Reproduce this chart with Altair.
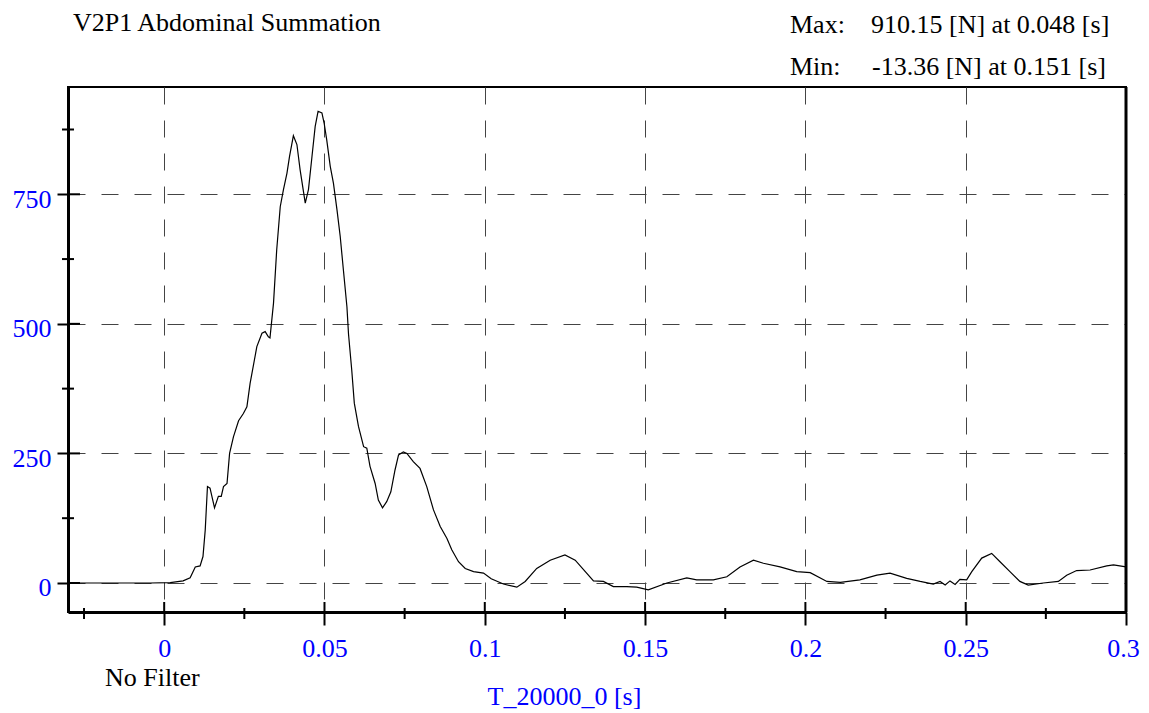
import altair as alt
import pandas as pd

# ---- data ----
time_s = [-0.03, -0.0200, -0.0044, 0.0019, 0.0059, 0.0081, 0.0097, 0.0112, 0.0121, 0.0128,
          0.0135, 0.0143, 0.0157, 0.0169, 0.0178, 0.0185, 0.0196, 0.0204, 0.0216, 0.0232,
          0.0247, 0.0258, 0.0268, 0.0289, 0.0305, 0.0315, 0.0325, 0.0330, 0.0341, 0.0351,
          0.0362, 0.0372, 0.0383, 0.0391, 0.0403, 0.0414, 0.0424, 0.0440, 0.0450, 0.0461,
          0.0471, 0.0480, 0.0492, 0.0499, 0.0507, 0.0518, 0.0528, 0.0539, 0.0549, 0.0559,
          0.0570, 0.0575, 0.0585, 0.0593, 0.0606, 0.0622, 0.0632, 0.0642, 0.0658, 0.0668,
          0.0681, 0.0694, 0.0707, 0.0720, 0.0731, 0.0746, 0.0757, 0.0777, 0.0798, 0.0819,
          0.0840, 0.0861, 0.0882, 0.0897, 0.0918, 0.0939, 0.0965, 0.0996, 0.1020, 0.1058,
          0.1100, 0.1126, 0.1162, 0.1204, 0.1250, 0.1282, 0.1339, 0.1370, 0.1401, 0.1443,
          0.1474, 0.1510, 0.1568, 0.1630, 0.1661, 0.1713, 0.1755, 0.1796, 0.1838, 0.1869,
          0.1921, 0.1973, 0.2015, 0.2067, 0.2109, 0.2170, 0.2223, 0.2264, 0.2316, 0.2358,
          0.2399, 0.2420, 0.2436, 0.2451, 0.2467, 0.2482, 0.2503, 0.2519, 0.2550, 0.2581,
          0.2607, 0.2638, 0.2669, 0.2695, 0.2742, 0.2789, 0.2815, 0.2846, 0.2888, 0.2940,
          0.2961, 0.3000]
force_n = [0, 0, 0, 0.5, 4, 10, 31, 33, 51, 102,
           186, 183, 145, 167, 167, 186, 192, 250, 282, 313,
           327, 340, 385, 456, 482, 485, 475, 473, 540, 643,
           726, 759, 791, 823, 863, 846, 797, 733, 759, 823,
           881, 910.15, 907, 887, 855, 804, 771, 720, 669, 604,
           533, 480, 411, 347, 302, 263, 260, 225, 192, 160,
           145, 157, 176, 218, 247, 253, 250, 234, 221, 186,
           141, 109, 86, 64, 41, 28, 22, 19, 8, -2,
           -8, 3, 28, 44, 54, 44, 4, 3, -7, -7,
           -8, -13.36, 0, 10, 6, 6, 12, 31, 44, 38,
           31, 22, 20, 3, 1, 6, 15, 19, 9, 3,
           -2, 3, -4, 4, -3, 7, 6, 22, 48, 57,
           41, 22, 3, -4, 0, 3, 15, 24, 25, 33,
           35, 31]

y_major = [0, 250, 500, 750]
y_minor = [125, 375, 625, 875]
x_major = [0, 0.05, 0.1, 0.15, 0.2, 0.25, 0.3]
x_minor = [-0.025, 0.025, 0.075, 0.125, 0.175, 0.225, 0.275]
x_edge = [0.3]

title_text = "V2P1 Abdominal Summation"
max_label = "Max:"
max_text = "910.15 [N] at 0.048 [s]"
min_label = "Min:"
min_text = "-13.36 [N] at 0.151 [s]"
filter_text = "No Filter"
x_title = "T_20000_0 [s]"

# ---- styling ----
W, H = 1058, 525
FONT = "Liberation Serif"
FS = 26
BLUE = "#0000FF"
GRID = "#444444"

xscale = alt.Scale(domain=[-0.03, 0.3], nice=False, zero=False)
yscale = alt.Scale(domain=[-56, 957], nice=False, zero=False)

X_AX = alt.Axis(
    values=x_major, format=".2~f", grid=True, gridDash=[17, 16], gridColor=GRID,
    gridWidth=1, domainColor="black", domainWidth=3, tickColor="black", tickSize=13,
    tickWidth=2, labelColor=BLUE, labelFont=FONT, labelFontSize=FS,
    labelBaseline="alphabetic", labelPadding=31, labelFlush=False, labelOverlap=False,
    labelOffset={"condition": {"test": "datum.value >= 0.3", "value": -3}, "value": 0},
    title=x_title, titleColor=BLUE, titleFont=FONT, titleFontSize=FS,
    titleFontWeight="normal", titleX=419, titleY=92, titleAlign="left",
    titleBaseline="alphabetic")
Y_AX = alt.Axis(
    values=y_major, format="d", grid=True, gridDash=[17, 16], gridColor=GRID,
    gridWidth=1, domainColor="black", domainWidth=3, tickColor="black", tickSize=11,
    tickWidth=2, labelColor=BLUE, labelFont=FONT, labelFontSize=FS,
    labelBaseline="alphabetic", labelOffset=13, labelPadding=6, labelFlush=False,
    labelOverlap=False, title=None)

df = pd.DataFrame({"t": time_s, "f": force_n})

line = alt.Chart(df).mark_line(color="black", strokeWidth=1.2).encode(
    x=alt.X("t:Q", scale=xscale, axis=X_AX),
    y=alt.Y("f:Q", scale=yscale, axis=Y_AX),
)


def yticks(vals, x1, x2):
    return alt.Chart(pd.DataFrame({"f": vals})).mark_rule(color="black", strokeWidth=2).encode(
        y=alt.Y("f:Q", scale=yscale, axis=Y_AX), x=alt.value(x1), x2=alt.value(x2))


def xticks(vals, y1, y2, w=2):
    return alt.Chart(pd.DataFrame({"t": vals})).mark_rule(color="black", strokeWidth=w).encode(
        x=alt.X("t:Q", scale=xscale, axis=X_AX), y=alt.value(y1), y2=alt.value(y2))


def label(text, x, y, color="black"):
    return alt.Chart(pd.DataFrame({"s": [text]})).mark_text(
        align="left", baseline="alphabetic", font=FONT, fontSize=FS, color=color
    ).encode(text="s:N", x=alt.value(x), y=alt.value(y))


layers = [
    line,
    yticks(y_major, 0, 12),
    yticks(y_minor, -6, 6),
    xticks(x_major, H - 10, H),
    xticks(x_minor, H - 4, H + 7),
    xticks(x_edge, 0, H, 3),
    label(title_text, 5, -56),
    label(max_label, 722, -54),
    label(max_text, 803, -54),
    label(min_label, 722, -12),
    label(min_text, 804, -12),
    label(filter_text, 37, 599),
]

chart = alt.layer(*layers).properties(
    width=W, height=H,
    background="white",
    autosize=alt.AutoSizeParams(type="none"),
    padding={"left": 60, "top": 79, "right": 15, "bottom": 101},
).configure_view(stroke="black", strokeWidth=2)

chart.save("out.html", embed_options={"renderer": "svg", "actions": False})
